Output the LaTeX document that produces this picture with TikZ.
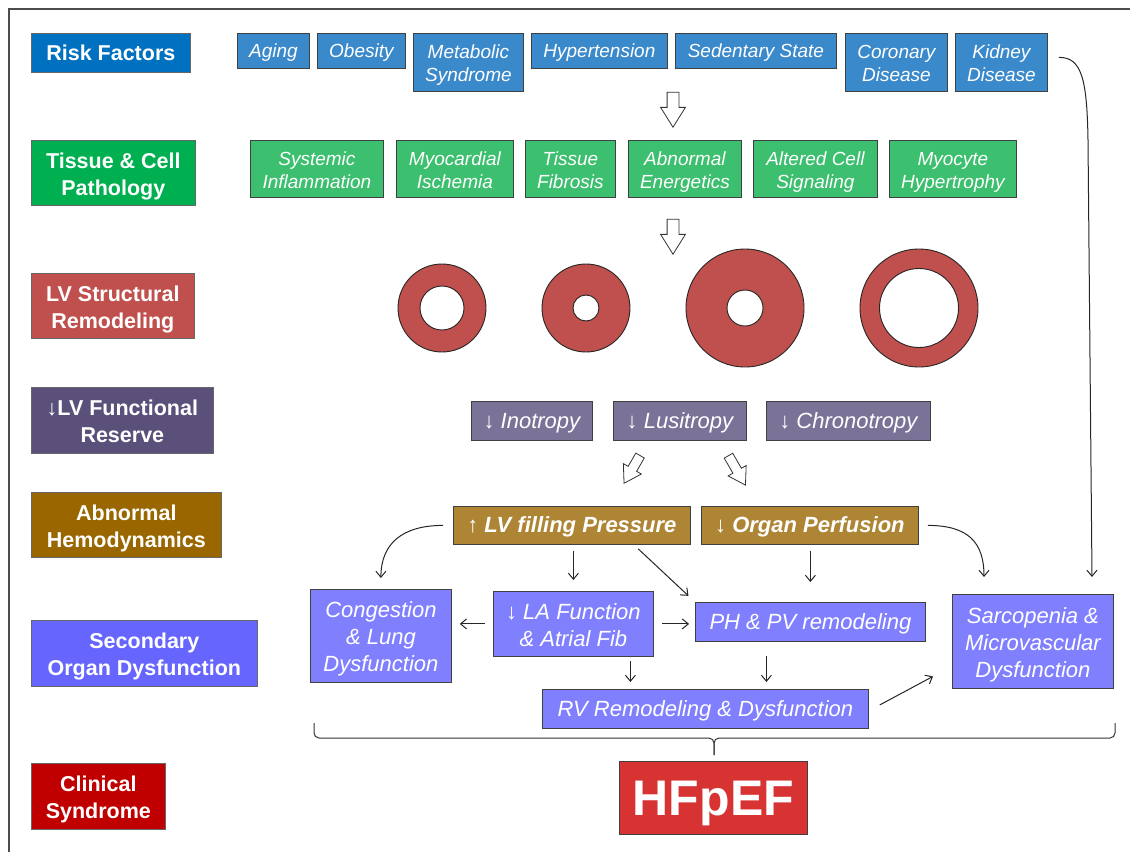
\documentclass[tikz,border=0pt]{standalone}
\usepackage{fontspec}
\setmainfont{Liberation Sans}
\usetikzlibrary{arrows.meta,shapes.arrows,positioning,calc}

\definecolor{riskcat}{HTML}{0070C0}
\definecolor{riskitem}{HTML}{3A89CB}
\definecolor{tissuecat}{HTML}{00B050}
\definecolor{tissueitem}{HTML}{3CBF6E}
\definecolor{lvred}{HTML}{C0504D}
\definecolor{funccat}{HTML}{5A507A}
\definecolor{funcitem}{HTML}{7B7298}
\definecolor{hemocat}{HTML}{996600}
\definecolor{hemoitem}{HTML}{AE8534}
\definecolor{seccat}{HTML}{6666FF}
\definecolor{secitem}{HTML}{8080FF}
\definecolor{cliniccat}{HTML}{C00000}
\definecolor{hfpefred}{HTML}{D83333}

% taller first line for boxes with several lines
\newcommand\upstrut{\rule{0pt}{1.02em}}

\begin{document}
\begin{tikzpicture}
[x=1pt,y=-1pt%
,boxtext/.style={execute at begin node=\rule{0pt}{.9em},%
                 execute at end node=\rule[-.21em]{0pt}{0pt}}%
,cat/.style={draw=black!60,%
             line width=.7pt,%
             text=white,%
             align=center,%
             inner sep=0pt,%
             anchor=north west,%
             boxtext,%
             font=\bfseries\fontsize{21.5}{27}\selectfont}%
,item/.style={draw=black!75,%
              line width=.8pt,%
              text=white,%
              align=center,%
              inner sep=0pt,%
              anchor=north west,%
              boxtext,%
              font=\itshape\fontsize{19}{23}\selectfont}%
,bigitem/.style={item,font=\itshape\fontsize{22}{27}\selectfont}%
,hemobox/.style={item,fill=hemoitem,font=\bfseries\itshape\fontsize{22}{27}\selectfont}%
,ring/.style={draw=black!85,line width=.9pt,fill=lvred,even odd rule}%
,hollow/.style={single arrow,%
                draw=black!80,%
                line width=.8pt,%
                fill=white,%
                inner sep=0pt,%
                inner ysep=5.5pt,%
                single arrow head extend=6.5pt,%
                single arrow tip angle=64,%
                minimum height=35pt}%
,conn/.style={-{Straight Barb[length=6pt,width=10pt]},line width=1pt,black!85}%
,bracket/.style={line width=1pt,black!80,rounded corners=5pt}]

\useasboundingbox (0,0) rectangle (1130,852);
\draw[black!70,line width=1.5pt] (9,852) -- (9,9) -- (1130,9);

% categories on the left
\node[cat,fill=riskcat,minimum width=159pt,minimum height=39pt] (risk) at (31,33) {Risk Factors};
\node[cat,fill=tissuecat,minimum width=164pt,minimum height=65pt] (tissue) at (31,140) {\upstrut Tissue \& Cell\\Pathology};
\node[cat,fill=lvred,minimum width=163pt,minimum height=65pt] (lvsr) at (31,273) {\upstrut LV Structural\\Remodeling};
\node[cat,fill=funccat,minimum width=182pt,minimum height=66pt] (lvfr) at (31,387) {\upstrut↓LV Functional\\Reserve};
\node[cat,fill=hemocat,minimum width=190pt,minimum height=65pt] (hemo) at (31,492) {\upstrut Abnormal\\Hemodynamics};
\node[cat,fill=seccat,minimum width=226pt,minimum height=66pt] (sec) at (31,620) {\upstrut Secondary\\Organ Dysfunction};
\node[cat,fill=cliniccat,minimum width=134pt,minimum height=66pt] (clin) at (31,763) {\upstrut Clinical\\Syndrome};

% risk factors
\node[item,fill=riskitem,minimum width=72pt,minimum height=35pt] (aging) at (237,33) {Aging};
\node[item,fill=riskitem,minimum width=88pt,minimum height=35pt] (obesity) at (317,33) {Obesity};
\node[item,fill=riskitem,minimum width=110pt,minimum height=58pt] (metab) at (413,33) {\upstrut Metabolic\\Syndrome};
\node[item,fill=riskitem,minimum width=136pt,minimum height=35pt] (hyper) at (531,33) {Hypertension};
\node[item,fill=riskitem,minimum width=161pt,minimum height=35pt] (sedent) at (675,33) {Sedentary State};
\node[item,fill=riskitem,minimum width=102pt,minimum height=58pt] (coronary) at (845,33) {\upstrut Coronary\\Disease};
\node[item,fill=riskitem,minimum width=92pt,minimum height=58pt] (kidney) at (955,33) {\upstrut Kidney\\Disease};

% tissue and cell pathology
\node[item,fill=tissueitem,minimum width=133pt,minimum height=57pt] (sysinf) at (250,140) {\upstrut Systemic\\Inflammation};
\node[item,fill=tissueitem,minimum width=117pt,minimum height=57pt] (myoisch) at (396,140) {\upstrut Myocardial\\Ischemia};
\node[item,fill=tissueitem,minimum width=90pt,minimum height=57pt] (fibro) at (525,140) {\upstrut Tissue\\Fibrosis};
\node[item,fill=tissueitem,minimum width=113pt,minimum height=57pt] (energ) at (628,140) {\upstrut Abnormal\\Energetics};
\node[item,fill=tissueitem,minimum width=124pt,minimum height=57pt] (signal) at (753,140) {\upstrut Altered Cell\\Signaling};
\node[item,fill=tissueitem,minimum width=127pt,minimum height=57pt] (hypertro) at (889,140) {\upstrut Myocyte\\Hypertrophy};

% LV cross sections
\coordinate (lv1) at (442,308);
\coordinate (lv2) at (586,308);
\coordinate (lv3) at (745,308);
\coordinate (lv4) at (919,308);
\draw[ring] (lv1) circle[radius=44pt] (lv1) circle[radius=22pt];
\draw[ring] (lv2) circle[radius=44pt] (lv2) circle[radius=13pt];
\draw[ring] (lv3) circle[radius=59pt] (lv3) circle[radius=18pt];
\draw[ring] (lv4) circle[radius=59pt] (lv4) circle[radius=39.5pt];

% functional reserve
\node[bigitem,fill=funcitem,minimum width=121pt,minimum height=39pt] (ino) at (471,401) {↓ Inotropy};
\node[bigitem,fill=funcitem,minimum width=133pt,minimum height=39pt] (lusi) at (613,401) {↓ Lusitropy};
\node[bigitem,fill=funcitem,minimum width=164pt,minimum height=39pt] (chrono) at (766,401) {↓ Chronotropy};

% hemodynamics
\node[hemobox,minimum width=237pt,minimum height=38pt] (lvfp) at (453,506) {↑ LV filling Pressure};
\node[hemobox,minimum width=217pt,minimum height=38pt] (orgp) at (701,506) {↓ Organ Perfusion};

% secondary organ dysfunction
\node[bigitem,fill=secitem,minimum width=141pt,minimum height=93pt] (cong) at (310,589) {\upstrut Congestion\\\& Lung\\Dysfunction};
\node[bigitem,fill=secitem,minimum width=160pt,minimum height=65pt] (lafn) at (493,591) {\upstrut↓ LA Function\\\& Atrial Fib};
\node[bigitem,fill=secitem,minimum width=230pt,minimum height=39pt] (ph) at (695,602) {PH \& PV remodeling};
\node[bigitem,fill=secitem,minimum width=161pt,minimum height=94pt] (sarc) at (952,594) {\upstrut Sarcopenia \&\\Microvascular\\Dysfunction};
\node[bigitem,fill=secitem,minimum width=326pt,minimum height=39pt] (rv) at (542,689) {RV Remodeling \& Dysfunction};

% clinical syndrome
\node[item,fill=hfpefred,minimum width=188pt,minimum height=73pt,font=\bfseries\fontsize{50}{55}\selectfont] (hfpef) at (619,761) {HFpEF};

% hollow arrows
\node[hollow,rotate=-90] (down1) at (673,105) {};
\node[hollow,rotate=-90] (down2) at (673,232) {};
\node[hollow,rotate=-120,minimum height=32pt,inner ysep=4.5pt,single arrow head extend=5.5pt] (diag1) at (634,466) {};
\node[hollow,rotate=-60,minimum height=34pt,inner ysep=4.5pt,single arrow head extend=5.5pt] (diag2) at (735,467) {};

% connectors
\coordinate (sarcin) at (984,577);
\coordinate (kidin) at (1092,577);
\draw[conn] ([xshift=-10pt]lvfp.west) .. controls +(-40,0) and +(0,-35) .. ([yshift=11pt]cong.north);
\draw[conn,shorten <=6pt,shorten >=11pt] (lvfp.south -| lafn.north) -- (lafn.north);
\draw[conn,shorten <=6pt,shorten >=9pt] ([xshift=62pt]lvfp.south) -- (ph.north west);
\draw[conn,shorten <=6pt,shorten >=20pt] (orgp.south -| ph.north) -- (ph.north);
\draw[conn] ([xshift=9pt]orgp.east) .. controls +(40,0) and +(0,-35) .. (sarcin);
\draw[conn] ([xshift=11pt,yshift=5pt]kidney.east) .. controls (1082,57) and (1087,80) .. (1088,140) -- (kidin);
\draw[conn,shorten <=8pt,shorten >=8pt] (lafn.west) -- (lafn.west -| cong.east);
\draw[conn,shorten <=8pt,shorten >=6pt] (lafn.east) -- (lafn.east -| ph.west);
\draw[conn,shorten <=4pt,shorten >=7pt] ([xshift=57pt]lafn.south) -- ([xshift=57pt]lafn.south |- rv.north);
\draw[conn,shorten <=14pt,shorten >=7pt] ([xshift=-44pt]ph.south) -- ([xshift=-44pt]ph.south |- rv.north);
\draw[conn] ([xshift=11pt,yshift=4pt]rv.east) -- ([xshift=-19pt,yshift=-35pt]sarc.west);

% bracket over the clinical syndrome
\coordinate (brl) at (314,723);
\coordinate (brr) at (1115,723);
\coordinate (brm) at (714,755);
\draw[bracket] (brl) -- (314,738) -- (714,738) -- (brm);
\draw[bracket] (brr) -- (1115,738) -- (714,738) -- (brm);
\end{tikzpicture}
\end{document}
